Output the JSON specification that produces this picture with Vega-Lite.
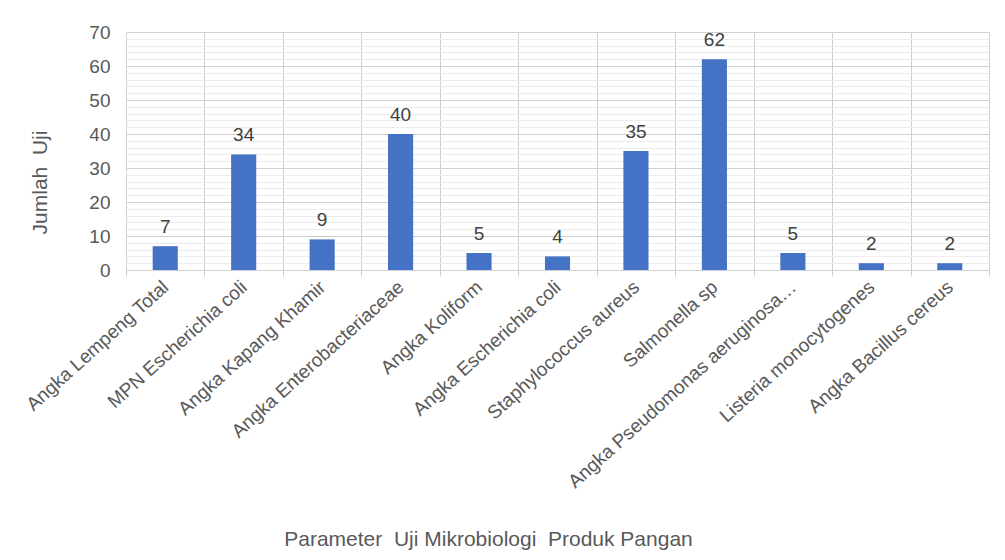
{
  "$schema": "https://vega.github.io/schema/vega-lite/v6.json",
  "autosize": {"type": "none"},
  "width": 863,
  "height": 238,
  "padding": {"left": 126, "top": 32, "right": 16, "bottom": 290},
  "background": "white",
  "config": {
    "font": "Liberation Sans",
    "view": {"stroke": null}
  },
  "data": {
    "values": [
      {"parameter": "Angka Lempeng Total", "jumlah": 7},
      {"parameter": "MPN Escherichia coli", "jumlah": 34},
      {"parameter": "Angka Kapang Khamir", "jumlah": 9},
      {"parameter": "Angka Enterobacteriaceae", "jumlah": 40},
      {"parameter": "Angka Koliform", "jumlah": 5},
      {"parameter": "Angka Escherichia coli", "jumlah": 4},
      {"parameter": "Staphylococcus aureus", "jumlah": 35},
      {"parameter": "Salmonella sp", "jumlah": 62},
      {"parameter": "Angka Pseudomonas aeruginosa…", "jumlah": 5},
      {"parameter": "Listeria monocytogenes", "jumlah": 2},
      {"parameter": "Angka Bacillus cereus", "jumlah": 2}
    ]
  },
  "encoding": {
    "x": {
      "field": "parameter",
      "type": "nominal",
      "sort": null,
      "scale": {"paddingInner": 0, "paddingOuter": 0},
      "axis": {
        "title": "Parameter\u00a0 Uji Mikrobiologi\u00a0 Produk Pangan",
        "titleFontSize": 21,
        "titleFontWeight": "normal",
        "titleColor": "#595959",
        "titleX": 362,
        "titleY": 269,
        "titleAlign": "center",
        "titleBaseline": "middle",
        "labelAngle": -42,
        "labelAlign": "right",
        "labelBaseline": "middle",
        "labelFontSize": 19,
        "labelColor": "#595959",
        "labelPadding": 8,
        "labelLimit": 0,
        "labelOverlap": false,
        "tickBand": "extent",
        "ticks": true,
        "tickSize": 6,
        "tickColor": "#d0d0d0",
        "grid": true,
        "gridColor": "#d0d0d0",
        "domain": true,
        "domainColor": "#d0d0d0"
      }
    },
    "y": {
      "field": "jumlah",
      "type": "quantitative",
      "scale": {"domain": [0, 70], "nice": false},
      "axis": {
        "title": "Jumlah\u00a0 Uji",
        "titleFontSize": 21,
        "titleFontWeight": "normal",
        "titleColor": "#595959",
        "titleAngle": -90,
        "titleX": -86,
        "titleY": 150,
        "titleAlign": "center",
        "titleBaseline": "middle",
        "values": [0, 2, 4, 6, 8, 10, 12, 14, 16, 18, 20, 22, 24, 26, 28, 30, 32, 34, 36, 38, 40, 42, 44, 46, 48, 50, 52, 54, 56, 58, 60, 62, 64, 66, 68, 70],
        "labelExpr": "datum.value % 10 === 0 ? datum.label : ''",
        "labelFontSize": 19,
        "labelColor": "#595959",
        "labelPadding": 16,
        "ticks": false,
        "domain": false,
        "grid": true,
        "gridColor": {"condition": {"test": "datum.value % 10 === 0", "value": "#d0d0d0"}, "value": "#ececec"}
      }
    }
  },
  "layer": [
    {
      "mark": {"type": "bar", "color": "#4472C4", "width": {"band": 0.32}}
    },
    {
      "mark": {"type": "text", "baseline": "alphabetic", "dy": -13, "fontSize": 19, "color": "#404040"},
      "encoding": {"text": {"field": "jumlah", "type": "quantitative"}}
    }
  ]
}
